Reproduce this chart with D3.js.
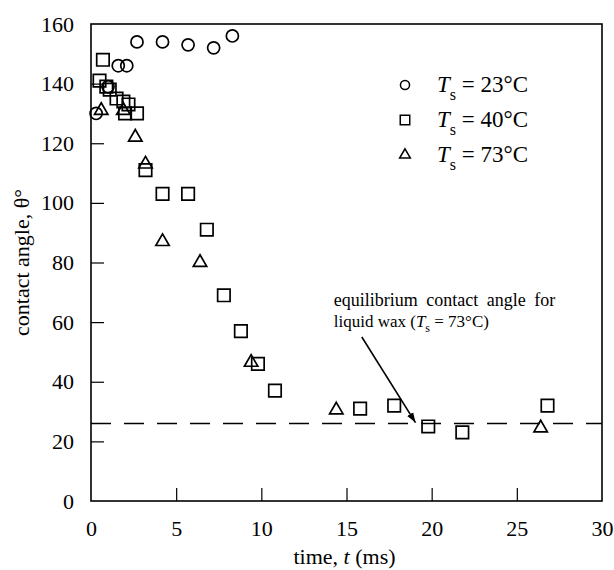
<!DOCTYPE html>
<html>
<head>
<meta charset="utf-8">
<script src="https://cdn.jsdelivr.net/npm/d3@7"></script>
<style>
  html, body { margin: 0; padding: 0; background: #fff; }
  svg text { font-family: "Liberation Serif", "Times New Roman", serif; fill: #000; }
</style>
</head>
<body>
<div id="chart"></div>
<script>
// T_s = 23 °C (circles)
const t23  = [0.3, 1.0, 1.6, 2.1, 2.7, 4.2, 5.7, 7.2, 8.3];
const th23 = [130, 139, 146, 146, 154, 154, 153, 152, 156];
// T_s = 40 °C (squares)
const t40  = [0.5, 0.7, 0.9, 1.1, 1.5, 1.9, 2.2, 2.0, 2.7, 3.2, 4.2, 5.7, 6.8, 7.8, 8.8, 9.8, 10.8, 15.8, 17.8, 19.8, 21.8, 26.8];
const th40 = [141, 148, 139, 138, 135, 134, 133, 130, 130, 111, 103, 103, 91, 69, 57, 46, 37, 31, 32, 25, 23, 32];
// T_s = 73 °C (triangles)
const t73  = [0.6, 1.9, 2.6, 3.2, 4.2, 6.4, 9.4, 14.4, 26.4];
const th73 = [131, 131, 122, 113, 87, 80, 46.5, 30.5, 24.5];

const xTicks = [0, 5, 10, 15, 20, 25, 30];
const yTicks = [0, 20, 40, 60, 80, 100, 120, 140, 160];
const equilibrium = 26;
const arrowFrom = [15.9, 55], arrowTo = [19.05, 26.3];
const noteAt = [14.25, 65.3];
const legendTemps = ['23', '40', '73'];

const W = 614, H = 570;
const Mg = { top: 24, right: 12, bottom: 69, left: 91 };
const w = W - Mg.left - Mg.right, h = H - Mg.top - Mg.bottom;

const svg = d3.select('#chart').append('svg').attr('width', W).attr('height', H);
svg.append('defs').append('marker').attr('id', 'ah').attr('viewBox', '0 0 10 10').attr('refX', 10).attr('refY', 5)
  .attr('markerWidth', 10).attr('markerHeight', 10).attr('markerUnits', 'userSpaceOnUse').attr('orient', 'auto')
  .append('path').attr('d', 'M0,1.5 L10,5 L0,8.5 Z').attr('fill', '#000');

const g = svg.append('g').attr('transform', `translate(${Mg.left},${Mg.top})`);

const x = d3.scaleLinear().domain([0, 30]).range([0, w]);
const y = d3.scaleLinear().domain([0, 160]).range([h, 0]);

// axes, ticks pointing inward
const xa = g.append('g').attr('transform', `translate(0,${h})`)
  .call(d3.axisBottom(x).tickValues(xTicks).tickSizeInner(-13).tickSizeOuter(0).tickPadding(19));
const ya = g.append('g')
  .call(d3.axisLeft(y).tickValues(yTicks).tickSizeInner(-13).tickSizeOuter(0).tickPadding(17));
[xa, ya].forEach(a => {
  a.select('.domain').remove();
  a.selectAll('line').attr('stroke', '#000').attr('stroke-width', 1.2);
  a.selectAll('text').attr('font-size', 22).attr('font-family', '"Liberation Serif", serif');
});
g.selectAll('.tick').filter(d => d === 0 || d === 30 || d === 160).select('line').remove();

// frame
g.append('rect').attr('width', w).attr('height', h).attr('fill', 'none')
  .attr('stroke', '#000').attr('stroke-width', 1.6);

// equilibrium line
g.append('line').attr('x1', 0).attr('x2', w).attr('y1', y(equilibrium)).attr('y2', y(equilibrium))
  .attr('stroke', '#000').attr('stroke-width', 1.5).attr('stroke-dasharray', '20,13');

// markers
const sym = {
  circle: d3.symbol().type(d3.symbolCircle).size(115),
  square: d3.symbol().type(d3.symbolSquare).size(155),
  triangle: d3.symbol().type(d3.symbolTriangle).size(78)
};
function plot(ts, ths, s) {
  g.append('g').selectAll('path').data(ts.map((t, i) => [t, ths[i]])).join('path')
    .attr('transform', d => `translate(${x(d[0])},${y(d[1])})`)
    .attr('d', sym[s]).attr('fill', 'none').attr('stroke', '#000').attr('stroke-width', 1.7);
}
plot(t23, th23, 'circle');
plot(t40, th40, 'square');
plot(t73, th73, 'triangle');

// legend
const leg = g.append('g').attr('transform', `translate(${405 - Mg.left},${85 - Mg.top})`);
const legSym = [
  d3.symbol().type(d3.symbolCircle).size(65),
  d3.symbol().type(d3.symbolSquare).size(90),
  d3.symbol().type(d3.symbolTriangle).size(50)
];
legendTemps.forEach((tmp, i) => {
  const r = leg.append('g').attr('transform', `translate(0,${i * 35})`);
  r.append('path').attr('d', legSym[i]).attr('fill', 'none').attr('stroke', '#000').attr('stroke-width', 1.5);
  const tx = r.append('text').attr('x', 32).attr('y', 7).attr('font-size', 23);
  tx.append('tspan').attr('font-style', 'italic').text('T');
  tx.append('tspan').attr('font-size', 16).attr('dy', 8).text('s');
  tx.append('tspan').attr('dy', -8).text(` = ${tmp}°C`);
});

// annotation
g.append('text').attr('x', x(noteAt[0])).attr('y', y(noteAt[1])).attr('font-size', 18)
  .attr('word-spacing', 4).text('equilibrium contact angle for');
const l2 = g.append('text').attr('x', x(noteAt[0])).attr('y', y(noteAt[1]) + 21).attr('font-size', 17);
l2.append('tspan').text('liquid wax (');
l2.append('tspan').attr('font-style', 'italic').text('T');
l2.append('tspan').attr('font-size', 12).attr('dy', 5).text('s');
l2.append('tspan').attr('dy', -5).text(' = 73°C)');

g.append('line').attr('x1', x(arrowFrom[0])).attr('y1', y(arrowFrom[1]))
  .attr('x2', x(arrowTo[0])).attr('y2', y(arrowTo[1]))
  .attr('stroke', '#000').attr('stroke-width', 1.6).attr('marker-end', 'url(#ah)');

// axis titles
const xt = svg.append('text').attr('x', Mg.left + w / 2 - 2).attr('y', H - 6)
  .attr('text-anchor', 'middle').attr('font-size', 22);
xt.append('tspan').text('time, ');
xt.append('tspan').attr('font-style', 'italic').text('t');
xt.append('tspan').text(' (ms)');

svg.append('text').attr('transform', `translate(29,${Mg.top + h / 2}) rotate(-90)`)
  .attr('text-anchor', 'middle').attr('font-size', 22).text('contact angle, θ°');
</script>
</body>
</html>
